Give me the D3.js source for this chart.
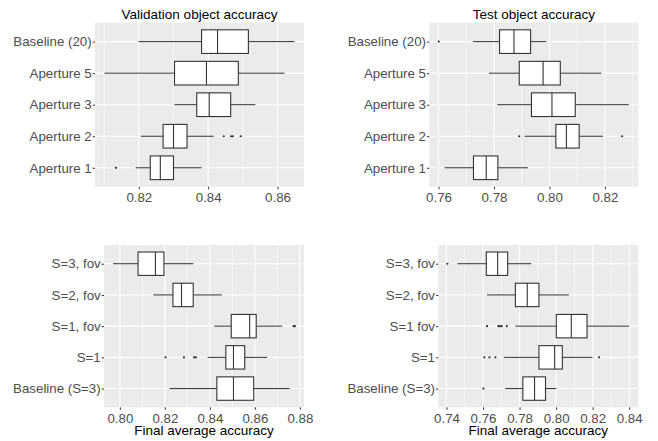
<!DOCTYPE html>
<html lang="en">
<head>
<meta charset="utf-8">
<title>Accuracy boxplots</title>
<script src="https://d3js.org/d3.v7.min.js"></script>
<style>
  body { margin: 0; background: #fff; }
  svg text { font-family: "Liberation Sans", Arial, Helvetica, sans-serif; }
  .axis text { font-size: 13.3px; fill: #4d4d4d; }
  .axis line { stroke: #333; }
  .axis path { display: none; }
</style>
</head>
<body>
<div id="chart"></div>
<script>
// box stats per row: [low whisker, Q1, median, Q3, high whisker]
const valCats = ["Baseline (20)", "Aperture 5", "Aperture 3", "Aperture 2", "Aperture 1"];
const valStats = [
  [0.8199, 0.8381, 0.8427, 0.8516, 0.8649],
  [0.8101, 0.8303, 0.8395, 0.8487, 0.8620],
  [0.8303, 0.8367, 0.8403, 0.8465, 0.8536],
  [0.8206, 0.8270, 0.8300, 0.8339, 0.8416],
  [0.8191, 0.8233, 0.8262, 0.8300, 0.8381]
];
const valOutliers = [[], [], [], [0.8445, 0.8466, 0.8471, 0.8494], [0.8134]];
const valTicks = [0.82, 0.84, 0.86];

const testCats = ["Baseline (20)", "Aperture 5", "Aperture 3", "Aperture 2", "Aperture 1"];
const testStats = [
  [0.7724, 0.7820, 0.7872, 0.7932, 0.7989],
  [0.7782, 0.7891, 0.7977, 0.8039, 0.8187],
  [0.7812, 0.7935, 0.8009, 0.8093, 0.8286],
  [0.7910, 0.8023, 0.8061, 0.8107, 0.8193],
  [0.7622, 0.7726, 0.7772, 0.7814, 0.7922]
];
const testOutliers = [[0.7601], [], [], [0.7891, 0.8262], []];
const testTicks = [0.76, 0.78, 0.80, 0.82];

const fovCats = ["S=3, fov", "S=2, fov", "S=1, fov", "S=1", "Baseline (S=3)"];
const fovStats = [
  [0.7970, 0.8081, 0.8158, 0.8196, 0.8327],
  [0.8149, 0.8236, 0.8274, 0.8326, 0.8453],
  [0.8420, 0.8495, 0.8577, 0.8606, 0.8722],
  [0.8390, 0.8471, 0.8505, 0.8555, 0.8655],
  [0.8221, 0.8431, 0.8505, 0.8595, 0.8755]
];
const fovOutliers = [[], [], [0.8772, 0.8778], [0.8203, 0.8285, 0.8330, 0.8338], []];
const fovTicks = [0.80, 0.82, 0.84, 0.86, 0.88];

const fovTestCats = ["S=3, fov", "S=2, fov", "S=1 fov", "S=1", "Baseline (S=3)"];
const fovTestStats = [
  [0.7460, 0.7618, 0.7680, 0.7735, 0.7864],
  [0.7622, 0.7777, 0.7842, 0.7906, 0.8070],
  [0.7777, 0.8001, 0.8083, 0.8169, 0.8400],
  [0.7713, 0.7906, 0.7992, 0.8034, 0.8199],
  [0.7721, 0.7818, 0.7882, 0.7942, 0.8001]
];
const fovTestOutliers = [[0.7405], [], [0.7622, 0.7684, 0.7693, 0.7702, 0.7730],
                         [0.7607, 0.7635, 0.7668, 0.8235], [0.7602]];
const fovTestTicks = [0.74, 0.76, 0.78, 0.80, 0.82, 0.84];

const panels = [
  {cats: valCats, stats: valStats, out: valOutliers, ticks: valTicks,
   title: "Validation object accuracy", xlab: "", x0: 95, x1: 304, y0: 22.7, y1: 186.7},
  {cats: testCats, stats: testStats, out: testOutliers, ticks: testTicks,
   title: "Test object accuracy", xlab: "", x0: 429.3, x1: 638.3, y0: 22.7, y1: 186.7},
  {cats: fovCats, stats: fovStats, out: fovOutliers, ticks: fovTicks,
   title: "", xlab: "Final average accuracy", x0: 104, x1: 304, y0: 245, y1: 407.3},
  {cats: fovTestCats, stats: fovTestStats, out: fovTestOutliers, ticks: fovTestTicks,
   title: "", xlab: "Final average accuracy", x0: 438.3, x1: 638.3, y0: 245, y1: 407.3}
];

const svg = d3.select("#chart").append("svg")
  .attr("width", 658).attr("height", 441);

panels.forEach(p => {
  const all = p.stats.flat().concat(p.out.flat());
  const [lo, hi] = d3.extent(all);
  const pad = (hi - lo) * 0.05;
  const x = d3.scaleLinear().domain([lo - pad, hi + pad]).range([p.x0, p.x1]);
  const y = d3.scalePoint().domain(p.cats).range([p.y0, p.y1]).padding(0.6);
  const boxH = y.step() * 0.75;

  const g = svg.append("g");
  g.append("rect")
    .attr("x", p.x0).attr("y", p.y0)
    .attr("width", p.x1 - p.x0).attr("height", p.y1 - p.y0)
    .attr("fill", "#ebebeb");

  // minor grid: halfway between majors, inside the panel
  const step = p.ticks[1] - p.ticks[0];
  const minor = [p.ticks[0] - step / 2].concat(p.ticks.map(t => t + step / 2))
    .filter(v => v >= x.domain()[0] && v <= x.domain()[1]);
  g.selectAll(".minor").data(minor).enter().append("line")
    .attr("x1", d => x(d)).attr("x2", d => x(d))
    .attr("y1", p.y0).attr("y2", p.y1)
    .attr("stroke", "#fff").attr("stroke-width", 0.55);
  g.selectAll(".major").data(p.ticks).enter().append("line")
    .attr("x1", d => x(d)).attr("x2", d => x(d))
    .attr("y1", p.y0).attr("y2", p.y1)
    .attr("stroke", "#fff").attr("stroke-width", 1.1);
  g.selectAll(".hgrid").data(p.cats).enter().append("line")
    .attr("x1", p.x0).attr("x2", p.x1)
    .attr("y1", d => y(d)).attr("y2", d => y(d))
    .attr("stroke", "#fff").attr("stroke-width", 1.1);

  const rows = g.selectAll(".row").data(p.cats).enter().append("g");
  rows.each(function(c, i) {
    const s = p.stats[i];
    const r = d3.select(this);
    const cy = y(c);
    r.append("line").attr("x1", x(s[0])).attr("x2", x(s[1]))
      .attr("y1", cy).attr("y2", cy).attr("stroke", "#333").attr("stroke-width", 1);
    r.append("line").attr("x1", x(s[3])).attr("x2", x(s[4]))
      .attr("y1", cy).attr("y2", cy).attr("stroke", "#333").attr("stroke-width", 1);
    r.append("rect")
      .attr("x", x(s[1])).attr("y", cy - boxH / 2)
      .attr("width", x(s[3]) - x(s[1])).attr("height", boxH)
      .attr("fill", "#fff").attr("stroke", "#333").attr("stroke-width", 1.1);
    r.append("line").attr("x1", x(s[2])).attr("x2", x(s[2]))
      .attr("y1", cy - boxH / 2).attr("y2", cy + boxH / 2)
      .attr("stroke", "#333").attr("stroke-width", 1.1);
    r.selectAll("circle").data(p.out[i]).enter().append("circle")
      .attr("cx", d => x(d)).attr("cy", cy).attr("r", 1.1).attr("fill", "#333");
  });

  g.append("g").attr("class", "axis")
    .attr("transform", `translate(0,${p.y1})`)
    .call(d3.axisBottom(x).tickValues(p.ticks).tickFormat(d3.format(".2f"))
      .tickSize(2.5).tickPadding(3.3));
  g.append("g").attr("class", "axis")
    .attr("transform", `translate(${p.x0},0)`)
    .call(d3.axisLeft(y).tickSize(2.3).tickPadding(1));

  if (p.title) {
    g.append("text").attr("x", (p.x0 + p.x1) / 2).attr("y", 18.5)
      .attr("text-anchor", "middle").attr("font-size", "13.5px").attr("fill", "#000")
      .text(p.title);
  }
  if (p.xlab) {
    g.append("text").attr("x", (p.x0 + p.x1) / 2).attr("y", 434.5)
      .attr("text-anchor", "middle").attr("font-size", "13.5px").attr("fill", "#000")
      .text(p.xlab);
  }
});
</script>
</body>
</html>
